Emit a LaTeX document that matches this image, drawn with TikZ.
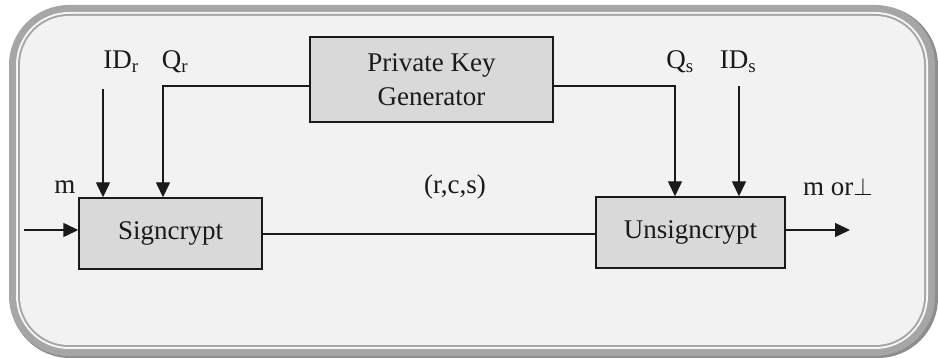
\documentclass[tikz,border=0pt]{standalone}
\usepackage{fontspec}
\setmainfont{Liberation Serif}
\newfontfamily\tnr{Liberation Serif}
\usetikzlibrary{arrows.meta}
\definecolor{panel}{HTML}{F2F2F2}
\definecolor{rim}{HTML}{A6A6A6}
\definecolor{boxfill}{HTML}{D9D9D9}
\definecolor{ink}{HTML}{1A1A1A}
\tikzset{
  blockbox/.style={draw=ink, line width=1.4pt, fill=boxfill, inner sep=0pt, align=center, text=ink, font=\tnr\fontsize{27}{34}\selectfont},
  lbl/.style={inner sep=0pt, text=ink, font=\tnr\fontsize{27}{32}\selectfont},
  wire/.style={draw=ink, line width=1.4pt},
  arr/.style={wire, -{Triangle[length=15pt,width=14pt]}}
}
\begin{document}
\begin{tikzpicture}[x=1pt,y=-1pt]
\useasboundingbox (0,0) rectangle (938,358);
% frame
\fill[rim!85!black] (10,6) [rounded corners=60pt] rectangle (938,358);
\fill[rim] (9,5) [rounded corners=60pt] rectangle (935,356);
\fill[white!90!rim] (16,12) [rounded corners=53pt] rectangle (928,349);
\fill[rim] (18,14) [rounded corners=51pt] rectangle (926,347);
\fill[panel] (20,16) [rounded corners=49pt] rectangle (924,345);
% blocks
\node[blockbox, minimum width=243pt, minimum height=85pt] (pkg) at (431.5,79.5) {Private Key\\Generator};
\node[blockbox, minimum width=183pt, minimum height=71pt] (sign) at (170.5,233.5) {Signcrypt};
\node[blockbox, minimum width=189pt, minimum height=71pt] (unsign) at (690.5,232.5) {Unsigncrypt};
% labels
\node[lbl] (lidr) at (121,62) {ID\textsubscript{r}};
\node[lbl] (lqr) at (175,62) {Q\textsubscript{r}};
\node[lbl] (lqs) at (680,62) {Q\textsubscript{s}};
\node[lbl] (lids) at (738,62) {ID\textsubscript{s}};
\node[lbl] (lm) at (65,187) {m};
\node[lbl] (lrcs) at (455,187) {(r,c,s)};
\node[lbl] (lout) at (838,187) {m or$\perp$};
% coordinates
\coordinate (idr) at (103,89);
\coordinate (qr) at (163,86);
\coordinate (qs) at (675,86);
\coordinate (ids) at (739,86);
\coordinate (min) at (24,230);
\coordinate (mout) at (850,230);
% connectors
\draw[arr] (idr) -- (idr |- sign.north);
\draw[arr] (pkg.west |- qr) -- (qr) -- (qr |- sign.north);
\draw[arr] (pkg.east |- qs) -- (qs) -- (qs |- unsign.north);
\draw[arr] (ids) -- (ids |- unsign.north);
\draw[arr] (min) -- (min -| sign.west);
\draw[wire] (sign.east |- 0,234) -- (unsign.west |- 0,234);
\draw[arr] (unsign.east |- mout) -- (mout);
\end{tikzpicture}
\end{document}
